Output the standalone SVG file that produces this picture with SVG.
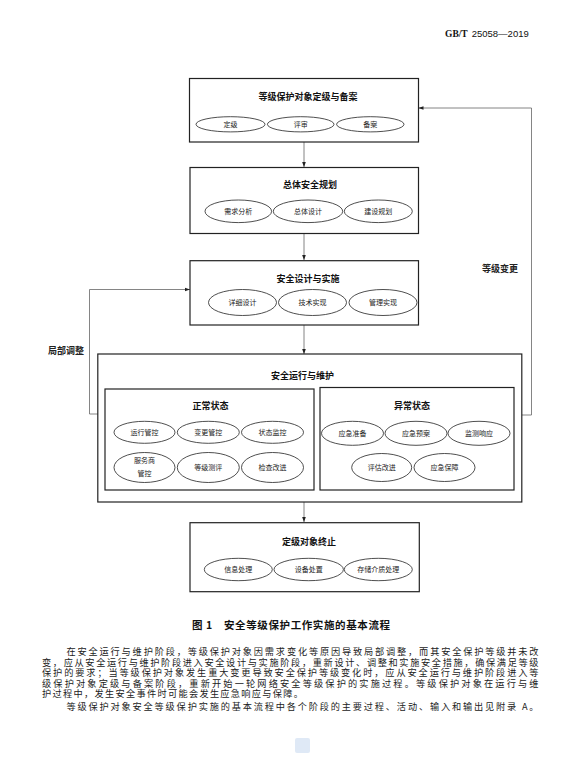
<svg xmlns="http://www.w3.org/2000/svg" width="583" height="764" viewBox="0 0 583 764">
<defs>
<marker id="arr" viewBox="0 0 6 6" refX="6" refY="3" markerWidth="5" markerHeight="5" orient="auto" markerUnits="userSpaceOnUse">
<path d="M0,0.8 L6,3 L0,5.2 Z" fill="#222"/>
</marker>
<style>
.box{fill:#fff;stroke:#222;stroke-width:1.2}
.ell{fill:#fff;stroke:#222;stroke-width:0.8}
.ttl{font-family:"Noto Sans CJK SC",sans-serif;font-size:9px;font-weight:bold;fill:#111;text-anchor:middle}
.lbl{font-family:"Noto Sans CJK SC",sans-serif;font-size:7px;fill:#222;text-anchor:middle}
.con{fill:none;stroke:#666;stroke-width:0.8}
.side{font-family:"Noto Sans CJK SC",sans-serif;font-size:9px;font-weight:bold;fill:#222}
.body{font-family:"Noto Sans CJK SC",sans-serif;font-size:9.2px;fill:#222}
</style>
</defs>
<rect width="583" height="764" fill="#fff"/>

<text x="445" y="37" font-family="Liberation Serif,serif" font-size="9.5" font-weight="bold" fill="#111">GB/T<tspan font-family="Liberation Sans,sans-serif" font-weight="normal" dx="4">25058—2019</tspan></text>

<g id="connectors">
<line class="con" x1="304" y1="142" x2="304" y2="167" marker-end="url(#arr)"/>
<line class="con" x1="304" y1="233" x2="304" y2="260" marker-end="url(#arr)"/>
<line class="con" x1="304" y1="325" x2="304" y2="354" marker-end="url(#arr)"/>
<line class="con" x1="304" y1="502" x2="304" y2="522" marker-end="url(#arr)"/>
<polyline class="con" points="98,414 89.5,414 89.5,289.5 190,289.5" marker-end="url(#arr)"/>
<polyline class="con" points="522,415 531.5,415 531.5,108 418.5,108" marker-end="url(#arr)"/>
<text class="side" x="48" y="354">局部调整</text>
<text class="side" x="482" y="271.5">等级变更</text>
</g>

<g id="n1">
<rect class="box" x="189.5" y="78.5" width="229" height="63.5"/>
<text class="ttl" x="308" y="99.5">等级保护对象定级与备案</text>
<ellipse class="ell" cx="230.5" cy="124.3" rx="34.5" ry="7.6"/>
<ellipse class="ell" cx="300.7" cy="124.3" rx="33.3" ry="7.6"/>
<ellipse class="ell" cx="370.3" cy="124.3" rx="33.7" ry="7.6"/>
<text class="lbl" x="230.5" y="126.8">定级</text>
<text class="lbl" x="300.7" y="126.8">评审</text>
<text class="lbl" x="370.3" y="126.8">备案</text>
</g>

<g id="n2">
<rect class="box" x="190" y="167.5" width="228.5" height="66"/>
<text class="ttl" x="310" y="187.5">总体安全规划</text>
<ellipse class="ell" cx="238.3" cy="211.3" rx="33.3" ry="11.3"/>
<ellipse class="ell" cx="308" cy="211.3" rx="34.7" ry="11.3"/>
<ellipse class="ell" cx="378.3" cy="211.3" rx="34" ry="11.3"/>
<text class="lbl" x="238.3" y="213.8">需求分析</text>
<text class="lbl" x="308" y="213.8">总体设计</text>
<text class="lbl" x="378.3" y="213.8">建设规划</text>
</g>

<g id="n3">
<rect class="box" x="190" y="260.7" width="228.5" height="64.3"/>
<text class="ttl" x="308" y="281.8">安全设计与实施</text>
<ellipse class="ell" cx="242.5" cy="302.5" rx="34" ry="13"/>
<ellipse class="ell" cx="312.5" cy="302.5" rx="34" ry="13"/>
<ellipse class="ell" cx="383" cy="302.5" rx="34" ry="13"/>
<text class="lbl" x="242.5" y="305">详细设计</text>
<text class="lbl" x="312.5" y="305">技术实现</text>
<text class="lbl" x="383" y="305">管理实现</text>
</g>

<g id="n4">
<rect class="box" x="97.8" y="354" width="424" height="148"/>
<text class="ttl" x="302.5" y="378.5">安全运行与维护</text>
</g>

<g id="n4a">
<rect class="box" x="105" y="389" width="209" height="101"/>
<text class="ttl" x="210.5" y="408.5">正常状态</text>
<ellipse class="ell" cx="144.5" cy="432.3" rx="30.5" ry="11"/>
<ellipse class="ell" cx="208.3" cy="432.3" rx="31" ry="11"/>
<ellipse class="ell" cx="272.5" cy="432.3" rx="31" ry="11"/>
<ellipse class="ell" cx="144.5" cy="467.5" rx="30.5" ry="15"/>
<ellipse class="ell" cx="208.3" cy="467.5" rx="31" ry="15"/>
<ellipse class="ell" cx="272.5" cy="467.5" rx="31" ry="15"/>
<text class="lbl" x="144.5" y="434.8">运行管控</text>
<text class="lbl" x="208.3" y="434.8">变更管控</text>
<text class="lbl" x="272.5" y="434.8">状态监控</text>
<text class="lbl" x="144.5" y="463.3">服务商</text>
<text class="lbl" x="144.5" y="476">管控</text>
<text class="lbl" x="208.3" y="470">等级测评</text>
<text class="lbl" x="272.5" y="470">检查改进</text>
</g>

<g id="n4b">
<rect class="box" x="320" y="387.5" width="194" height="102.5"/>
<text class="ttl" x="412" y="408.5">异常状态</text>
<ellipse class="ell" cx="352.5" cy="433.3" rx="31" ry="12"/>
<ellipse class="ell" cx="416" cy="433.3" rx="31" ry="12"/>
<ellipse class="ell" cx="479" cy="433.3" rx="31" ry="12"/>
<ellipse class="ell" cx="381.7" cy="467.5" rx="30" ry="14"/>
<ellipse class="ell" cx="444.5" cy="467.5" rx="30.5" ry="14"/>
<text class="lbl" x="352.5" y="435.8">应急准备</text>
<text class="lbl" x="416" y="435.8">应急预案</text>
<text class="lbl" x="479" y="435.8">监测响应</text>
<text class="lbl" x="381.7" y="470">评估改进</text>
<text class="lbl" x="444.5" y="470">应急保障</text>
</g>

<g id="n5">
<rect class="box" x="190" y="522.7" width="229.3" height="69"/>
<text class="ttl" x="309" y="545">定级对象终止</text>
<ellipse class="ell" cx="238.3" cy="569.5" rx="34" ry="11.2"/>
<ellipse class="ell" cx="308.7" cy="569.5" rx="34.7" ry="11.2"/>
<ellipse class="ell" cx="378.3" cy="569.5" rx="34" ry="11.2"/>
<text class="lbl" x="238.3" y="572">信息处理</text>
<text class="lbl" x="308.7" y="572">设备处置</text>
<text class="lbl" x="378.3" y="572">存储介质处理</text>
</g>

<text x="192" y="628.5" font-family="Noto Sans CJK SC,sans-serif" font-size="10.5" font-weight="bold" fill="#111" textLength="198" lengthAdjust="spacing">图 1　安全等级保护工作实施的基本流程</text>

<text class="body" x="66.5" y="655" textLength="472" lengthAdjust="spacing">在安全运行与维护阶段，等级保护对象因需求变化等原因导致局部调整，而其安全保护等级并未改</text>
<text class="body" x="42" y="665.6" textLength="496.5" lengthAdjust="spacing">变，应从安全运行与维护阶段进入安全设计与实施阶段，重新设计、调整和实施安全措施，确保满足等级</text>
<text class="body" x="42" y="676.2" textLength="496.5" lengthAdjust="spacing">保护的要求；当等级保护对象发生重大变更导致安全保护等级变化时，应从安全运行与维护阶段进入等</text>
<text class="body" x="42" y="686.8" textLength="496.5" lengthAdjust="spacing">级保护对象定级与备案阶段，重新开始一轮网络安全等级保护的实施过程。等级保护对象在运行与维</text>
<text class="body" x="42" y="697.4" textLength="261" lengthAdjust="spacing">护过程中，发生安全事件时可能会发生应急响应与保障。</text>
<text class="body" x="66.5" y="710" textLength="472" lengthAdjust="spacing">等级保护对象安全等级保护实施的基本流程中各个阶段的主要过程、活动、输入和输出见附录 A。</text>

<rect x="295" y="738" width="15" height="15" rx="2" fill="#dfe9f6"/>
</svg>
